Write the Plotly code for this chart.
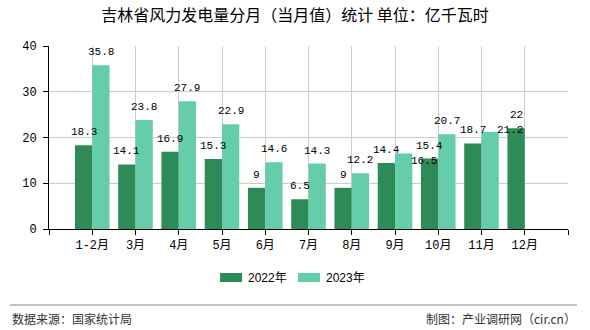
import plotly.graph_objects as go

categories = ["1-2月", "3月", "4月", "5月", "6月", "7月", "8月", "9月", "10月", "11月", "12月"]
values_2022 = [18.3, 14.1, 16.9, 15.3, 9, 6.5, 9, 14.4, 15.4, 18.7, 22]
values_2023 = [35.8, 23.8, 27.9, 22.9, 14.6, 14.3, 12.2, 16.5, 20.7, 21.2, None]
series_names = ["2022年", "2023年"]
series_colors = ["#2E8B57", "#66CDAA"]
y_ticks = [0, 10, 20, 30, 40]

W, H = 590, 330
L, R, T, B = 49, 22, 46, 101
pw, ph = W - L - R, H - T - B

def px(x):
    return (x - L) / pw

def py(y):
    return (H - B - y) / ph

num_font = "Liberation Mono, Noto Sans CJK SC, monospace"
idx = list(range(len(categories)))
offsets = [-0.2, 0.2]
# label nudges (pixels) where the original chart moved overlapping labels
nudges = {(1, 7): (20, -20), (1, 9): (20, -11)}

def fmt(v):
    return f"{v:g}"

fig = go.Figure()
for s, vals in enumerate([values_2022, values_2023]):
    fig.add_trace(go.Bar(
        x=idx, y=vals, name=series_names[s], marker_color=series_colors[s],
        marker_line_width=0, showlegend=False, hoverinfo="y",
    ))
    for i, v in enumerate(vals):
        if v is None:
            continue
        dx, dy = nudges.get((s, i), (0, 0))
        fig.add_annotation(
            x=i + offsets[s], y=v, text=fmt(v), showarrow=False,
            xanchor="center", yanchor="bottom", yshift=5 + dy, xshift=dx,
            font=dict(family=num_font, size=11, color="#000"),
        )

fig.update_layout(
    width=W, height=H,
    margin=dict(l=L, r=R, t=T, b=B, pad=0),
    paper_bgcolor="white", plot_bgcolor="white",
    barmode="group", bargap=0.2, bargroupgap=0,
    title=dict(text="吉林省风力发电量分月（当月值）统计 单位：亿千瓦时",
               x=px(295), xref="paper", xanchor="center", y=1 - 15.5 / H, yanchor="middle",
               font=dict(family="Noto Sans CJK SC", size=16, color="#000")),
    showlegend=False,
)

fig.update_xaxes(
    range=[-1, len(categories)],
    tickmode="array",
    tickvals=list(range(-1, len(categories) + 1)),
    ticktext=[""] + categories + [""],
    showgrid=True, gridcolor="#cccccc", gridwidth=1,
    showline=True, linecolor="#000", linewidth=1,
    ticks="outside", ticklen=5, tickcolor="#000",
    tickfont=dict(family=num_font, size=12, color="#000"),
    zeroline=False,
)
fig.update_yaxes(
    range=[0, 40],
    tickvals=y_ticks,
    showgrid=True, gridcolor="#cccccc", gridwidth=1,
    showline=True, linecolor="#000", linewidth=1,
    ticks="outside", ticklen=5, tickcolor="#000",
    ticklabelstandoff=4,
    tickfont=dict(family=num_font, size=12, color="#000"),
    zeroline=False,
)

# legend drawn manually (wide swatches like the original)
leg_x = [220, 298]
for s in range(2):
    fig.add_shape(type="rect", xref="paper", yref="paper",
                  x0=px(leg_x[s]), x1=px(leg_x[s] + 22), y0=py(282), y1=py(273),
                  fillcolor=series_colors[s], line_width=0)
    fig.add_annotation(text=series_names[s], xref="paper", yref="paper",
                       x=px(leg_x[s] + 26), y=py(277.5), xanchor="left", yanchor="middle",
                       showarrow=False,
                       font=dict(family="Liberation Sans, Noto Sans CJK SC", size=12, color="#000"))

fig.add_shape(type="line", xref="paper", yref="paper",
              x0=px(10), x1=px(577), y0=py(305), y1=py(305),
              line=dict(color="#888888", width=1))
fig.add_annotation(text="数据来源：国家统计局", xref="paper", yref="paper",
                   x=px(10), y=py(318), xanchor="left", yanchor="middle", showarrow=False,
                   font=dict(family="Noto Sans CJK SC", size=12, color="#333"))
fig.add_annotation(text="制图：产业调研网（cir.cn）", xref="paper", yref="paper",
                   x=px(578), y=py(318), xanchor="right", yanchor="middle", showarrow=False,
                   font=dict(family="Noto Sans CJK SC", size=12, color="#333"))

fig.write_html("out.html")
